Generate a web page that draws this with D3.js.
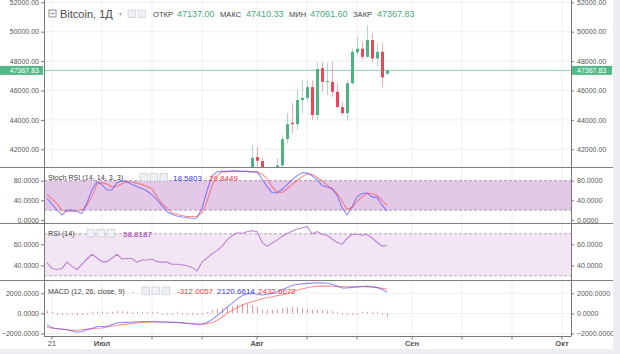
<!DOCTYPE html>
<html><head><meta charset="utf-8">
<script src="https://cdn.jsdelivr.net/npm/d3@7"></script>
<style>
body{margin:0;background:#fff;}
svg{display:block;font-family:"Liberation Sans", Arial, sans-serif;}
</style></head><body>
<svg id="c" width="620" height="354"></svg>
<script>
// ---------- DATA ----------
const indicatorStart = "2021-06-20";
const indicatorEnd = "2021-08-27";
const stochK = [44,32,20,10,20,20,17,13,35,62,78,72,61,61,76,80,78,72,68,64,59,51,41,29,17,11,8,6,5,3,4,24,60,90,98,99,99,100,100,99,99,98,98,84,68,56,55,62,72,82,90,96,96,90,82,70,67,64,50,25,10,27,47,54,55,47,46,30,18.58];
const stochD = [52,43,33,19,17,17,18,20,30,48,73,76,73,67,69,74,78,77,75,72,68,63,47,33,24,14,11,9,7,7,7,15,38,70,90,98,98,99,99,99,99,98,98,93,85,68,57,56,63,72,80,88,94,93,87,80,71,63,54,38,22,25,38,47,55,54,50,40,29.84];
const rsi = [42.5,37,36,37,43,39,36,41,46,50.5,47,43.5,43.5,47,50.5,46,46.5,46.5,43,45,45,46,43.5,43,43,41,41,40.5,39.5,38,34.6,43,47,51,54,58,64,68,71,70.5,72,73,72,62,58,61,64,67.5,70.5,72.5,74.5,75.5,77,70,72,69.6,68.6,65,62,60,65.5,69.6,69.6,68.6,69.6,66,62,58.3,58.82];
const macd = [-1140,-1420,-1520,-1580,-1630,-1750,-1880,-1800,-1630,-1470,-1300,-1300,-1300,-1100,-930,-900,-890,-870,-830,-810,-810,-810,-830,-860,-880,-890,-900,-940,-1000,-1060,-1110,-1080,-900,-600,-230,180,590,1000,1420,1750,1930,1980,1900,1830,1900,1990,2150,2380,2560,2780,2870,2940,2990,3010,3040,3050,3000,2900,2720,2530,2520,2590,2640,2680,2720,2680,2590,2400,2120.66];
const signal = [-1400,-1450,-1500,-1560,-1620,-1690,-1680,-1620,-1560,-1520,-1480,-1460,-1350,-1250,-1180,-1120,-1070,-1000,-940,-900,-870,-850,-840,-850,-860,-875,-900,-930,-960,-1000,-1040,-1060,-1020,-930,-700,-380,0,300,560,800,1000,1160,1280,1450,1560,1650,1760,1830,1960,2130,2300,2430,2550,2650,2690,2710,2720,2700,2680,2660,2650,2650,2650,2650,2640,2600,2560,2500,2432.67];
const hist = [260,30,-20,-20,-10,-60,-200,-180,-70,50,180,160,50,150,250,220,180,130,110,90,60,40,10,-10,-20,-15,0,-10,-40,-60,-70,-20,120,330,470,560,590,700,860,950,930,820,620,380,340,340,390,550,600,650,570,510,440,360,350,340,280,200,40,-130,-130,-60,-10,30,80,80,30,-100,-312.01];

const candleDates = ["2021-07-31","2021-08-01","2021-08-02","2021-08-03","2021-08-04","2021-08-05","2021-08-06","2021-08-07","2021-08-08","2021-08-09","2021-08-10","2021-08-11","2021-08-12","2021-08-13","2021-08-14","2021-08-15","2021-08-16","2021-08-17","2021-08-18","2021-08-19","2021-08-20","2021-08-21","2021-08-22","2021-08-23","2021-08-24","2021-08-25","2021-08-26","2021-08-27"];
const openP  = [40200,41470,41200,40300,39300,40500,40900,42690,43800,43710,45350,45500,46230,44330,47520,46590,46590,45910,44870,44460,46500,48590,48840,48290,49430,48180,48630,47137];
const highP  = [42300,42200,41400,40700,40700,41400,42970,44460,45140,46030,46710,46710,46710,47950,47950,47860,47950,46500,45230,46710,48880,49650,49310,50450,49900,49250,49250,47410.33];
const lowP   = [39800,40700,39900,38800,38600,39300,40500,42420,43100,43310,44460,45230,43990,43990,45910,45690,45570,44800,44330,43940,46370,48410,48070,48200,47930,47610,46210,47091.6];
const closeP = [41420,41220,40300,39300,40500,40900,42690,43710,43710,45350,45500,46230,44330,47460,46590,46650,45910,44870,44460,46500,48630,48840,48290,49430,48180,48630,46890,47367.83];
const lastPrice = 47367.83;

const priceTicks = [42000,44000,46000,48000,50000,52000];
const stochTicks = [0,40,80];
const rsiTicks = [40,60];
const macdTicks = [-2000,0,2000];
const timeTicks = ["2021-06-21","2021-07-01","2021-07-11","2021-07-21","2021-08-01","2021-08-11","2021-08-21","2021-09-01","2021-09-11","2021-09-21","2021-10-01"];
const timeLabels = {"2021-06-21":"21","2021-07-01":"Июл","2021-08-01":"Авг","2021-09-01":"Сен","2021-10-01":"Окт"};

// ---------- LAYOUT ----------
const svg = d3.select("#c");
const L = 44, R = 571;
const panes = {
  main: [0, 167],
  stoch: [168, 223.5],
  rsi: [224, 280.5],
  macd: [281, 336]
};
const parse = d3.utcParse("%Y-%m-%d");
const days = d3.utcDay.range(parse(indicatorStart), d3.utcDay.offset(parse(indicatorEnd), 1));

const x = d3.scaleUtc().domain([parse("2021-06-21"), parse("2021-10-01")]).range([52, 562]);
const yMain = d3.scaleLinear().domain([42000, 50000]).range([149.3, 31.7]);
const yStoch = d3.scaleLinear().domain([0, 80]).range([219.9, 180.7]);
const yRsi = d3.scaleLinear().domain([40, 60]).range([265.3, 244.3]);
const yMacd = d3.scaleLinear().domain([-2000, 2000]).range([333.5, 293.3]);

const green = "#4fb283", red = "#e8485a";

svg.append("rect").attr("x",0).attr("y",0).attr("width",620).attr("height",354).attr("fill","#fff");
svg.append("rect").attr("x",613).attr("y",0).attr("width",7).attr("height",354).attr("fill","#eceef2");
svg.append("rect").attr("x",0).attr("y",349).attr("width",620).attr("height",5).attr("fill","#eceef2");

const defs = svg.append("defs");
Object.entries(panes).forEach(([k,[t,b]]) => {
  defs.append("clipPath").attr("id","clip-"+k).append("rect").attr("x",L).attr("y",t).attr("width",R-L).attr("height",b-t);
  defs.append("clipPath").attr("id","clipax-"+k).append("rect").attr("x",0).attr("y",t).attr("width",613).attr("height",b-t);
});

Object.entries(panes).forEach(([k,[t,b]]) => {
  svg.append("g").attr("clip-path","url(#clip-"+k+")").selectAll("line").data(timeTicks).join("line")
    .attr("x1",d=>x(parse(d))).attr("x2",d=>x(parse(d))).attr("y1",t).attr("y2",b)
    .attr("stroke","#eff0f3").attr("stroke-width",1);
});

function hgrid(pane, scale, ticks){
  svg.append("g").attr("clip-path","url(#clip-"+pane+")").selectAll("line").data(ticks).join("line")
    .attr("x1",L).attr("x2",R).attr("y1",d=>scale(d)).attr("y2",d=>scale(d))
    .attr("stroke","#eff0f3").attr("stroke-width",1);
}
hgrid("main", yMain, priceTicks);
hgrid("rsi", yRsi, rsiTicks);
hgrid("macd", yMacd, macdTicks);

// ---------- STOCH RSI ----------
const gS = svg.append("g").attr("clip-path","url(#clip-stoch)");
gS.append("rect").attr("x",L).attr("width",R-L).attr("y",yStoch(80)).attr("height",yStoch(20)-yStoch(80)).attr("fill","#e3c8e8");
[80,20].forEach(v=>gS.append("line").attr("x1",L).attr("x2",R).attr("y1",yStoch(v)).attr("y2",yStoch(v))
  .attr("stroke","#a99aae").attr("stroke-dasharray","3,2"));
const lineS = (arr, ys) => d3.line().x((d,i)=>x(days[i])).y(d=>ys(d))(arr);
gS.append("path").attr("d",lineS(stochD,yStoch)).attr("fill","none").attr("stroke","rgba(255,70,70,0.6)").attr("stroke-width",1.1);
gS.append("path").attr("d",lineS(stochK,yStoch)).attr("fill","none").attr("stroke","rgba(70,70,255,0.6)").attr("stroke-width",1.1);

// ---------- RSI ----------
const gR = svg.append("g").attr("clip-path","url(#clip-rsi)");
gR.append("rect").attr("x",L).attr("width",R-L).attr("y",yRsi(70)).attr("height",yRsi(30)-yRsi(70)).attr("fill","#f2e6f4");
[70,30].forEach(v=>gR.append("line").attr("x1",L).attr("x2",R).attr("y1",yRsi(v)).attr("y2",yRsi(v))
  .attr("stroke","#b5a8b8").attr("stroke-dasharray","3,2"));
gR.append("path").attr("d",lineS(rsi,yRsi)).attr("fill","none").attr("stroke","rgba(175,95,200,0.75)").attr("stroke-width",1.1);

// ---------- MACD ----------
const gM = svg.append("g").attr("clip-path","url(#clip-macd)");
gM.selectAll("line.h").data(hist).join("line").attr("class","h")
  .attr("x1",(d,i)=>Math.round(x(days[i]))+0.5).attr("x2",(d,i)=>Math.round(x(days[i]))+0.5)
  .attr("y1",yMacd(0)).attr("y2",d=>{const y=yMacd(d); return Math.abs(y-yMacd(0))<1.5 ? yMacd(0)+(d<0?1.5:-1.5) : y;})
  .attr("stroke","rgba(240,90,90,0.65)").attr("stroke-width",1);
gM.append("path").attr("d",lineS(signal,yMacd)).attr("fill","none").attr("stroke","rgba(255,70,70,0.6)").attr("stroke-width",1.1);
gM.append("path").attr("d",lineS(macd,yMacd)).attr("fill","none").attr("stroke","rgba(70,70,255,0.6)").attr("stroke-width",1.1);

// ---------- MAIN CANDLES ----------
const gC = svg.append("g").attr("clip-path","url(#clip-main)");
gC.append("line").attr("x1",L).attr("x2",R).attr("y1",yMain(lastPrice)).attr("y2",yMain(lastPrice))
  .attr("stroke","#8fd3b0").attr("stroke-width",1);
const candles = candleDates.map((d,i)=>({d:parse(d),o:openP[i],h:highP[i],l:lowP[i],c:closeP[i]}));
gC.selectAll("line.w").data(candles).join("line").attr("class","w")
  .attr("x1",d=>Math.round(x(d.d))+0.5).attr("x2",d=>Math.round(x(d.d))+0.5)
  .attr("y1",d=>yMain(d.h)).attr("y2",d=>yMain(d.l))
  .attr("stroke",d=>d.c>=d.o?green:red).attr("stroke-opacity",0.45);
gC.selectAll("rect.b").data(candles).join("rect").attr("class","b")
  .attr("x",d=>Math.round(x(d.d))-1).attr("width",3)
  .attr("y",d=>yMain(Math.max(d.o,d.c))).attr("height",d=>Math.max(1.2,Math.abs(yMain(d.o)-yMain(d.c))))
  .attr("fill",d=>d.c>=d.o?green:red);

// ---------- AXES ----------
function axes(pane, scale, ticks, fmt){
  const ga = svg.append("g").attr("clip-path","url(#clipax-"+pane+")");
  const al = ga.append("g").attr("transform",`translate(${L},0)`).call(d3.axisLeft(scale).tickValues(ticks).tickFormat(d3.format(fmt)).tickSize(3).tickPadding(2));
  const ar = ga.append("g").attr("transform",`translate(${R},0)`).call(d3.axisRight(scale).tickValues(ticks).tickFormat(d3.format(fmt)).tickSize(3).tickPadding(3));
  [al,ar].forEach(a=>{
    a.select(".domain").remove();
    a.selectAll("line").attr("stroke","#777");
    a.selectAll("text").attr("font-size","7px").attr("fill","#555").attr("font-family","Liberation Sans, Arial, sans-serif");
  });
}
axes("main", yMain, priceTicks, ".2f");
axes("stoch", yStoch, stochTicks, ".4f");
axes("rsi", yRsi, rsiTicks, ".4f");
axes("macd", yMacd, macdTicks, ".4f");

[[0,43],[572,40]].forEach(([bx,bw])=>{
  svg.append("rect").attr("x",bx).attr("y",yMain(lastPrice)-4.5).attr("width",bw).attr("height",9).attr("fill","#53b987");
  svg.append("text").attr("x",bx===0?39:577).attr("y",yMain(lastPrice)+2.5).attr("text-anchor",bx===0?"end":"start")
    .attr("font-size","7px").attr("fill","#fff").text(d3.format(".2f")(lastPrice));
});

[167.5,223.5,280.5].forEach(y=>svg.append("line").attr("x1",0).attr("x2",613).attr("y1",y).attr("y2",y).attr("stroke","#808080").attr("stroke-width",1.2));
svg.append("line").attr("x1",L).attr("x2",R).attr("y1",336.5).attr("y2",336.5).attr("stroke","#777");
svg.append("line").attr("x1",L+0.5).attr("x2",L+0.5).attr("y1",0).attr("y2",336.5).attr("stroke","#777");
svg.append("line").attr("x1",R+0.5).attr("x2",R+0.5).attr("y1",0).attr("y2",336.5).attr("stroke","#777");

const gT = svg.append("g");
gT.selectAll("line").data(timeTicks).join("line")
  .attr("x1",d=>x(parse(d))).attr("x2",d=>x(parse(d))).attr("y1",336.5).attr("y2",339.5).attr("stroke","#777");
gT.selectAll("text").data(timeTicks.filter(d=>timeLabels[d])).join("text")
  .attr("x",d=>x(parse(d))).attr("y",346).attr("text-anchor","middle")
  .attr("font-size","7.5px").attr("fill","#555").attr("font-weight",d=>timeLabels[d]==="21"?"normal":"bold")
  .text(d=>timeLabels[d]);

// ---------- LEGENDS ----------
function icons(x0, y0, n){
  for(let i=0;i<n;i++) svg.append("rect").attr("x",x0+i*10).attr("y",y0).attr("width",7.5).attr("height",7.5)
    .attr("fill","#eef0f3").attr("stroke","#cfd3da").attr("stroke-width",0.8);
}
svg.append("rect").attr("x",49).attr("y",10).attr("width",7).attr("height",7).attr("fill","none").attr("stroke","#777").attr("stroke-width",0.8);
svg.append("line").attr("x1",50.5).attr("x2",54.5).attr("y1",13.5).attr("y2",13.5).attr("stroke","#777").attr("stroke-width",0.8);
svg.append("text").attr("x",60).attr("y",17.5).attr("font-size","11px").attr("fill","#4a4a4a").text("Bitcoin, 1Д");
svg.append("text").attr("x",119).attr("y",16).attr("font-size","6px").attr("fill","#aaa").text("▾");
icons(128,10,2);
const hdr = [["ОТКР",153,177,"47137.00"],["МАКС",220,246,"47410.33"],["МИН",289,310,"47091.60"],["ЗАКР",353,377,"47367.83"]];
hdr.forEach(([lab,lx,vx,val])=>{
  svg.append("text").attr("x",lx).attr("y",17).attr("font-size","7.6px").attr("fill","#444").text(lab);
  svg.append("text").attr("x",vx).attr("y",17.2).attr("font-size","9px").attr("fill","#4aaa7c").text(val);
});
const lg = 7.2;
svg.append("text").attr("x",48).attr("y",180).attr("font-size",lg+"px").attr("fill","#444").text("Stoch RSI (14, 14, 3, 3)");
svg.append("text").attr("x",131).attr("y",180).attr("font-size","7px").attr("fill","#aaa").text("‑");
icons(140,173.5,3);
svg.append("text").attr("x",173).attr("y",180.5).attr("font-size","8px").attr("fill","#3a3af0").text("18.5803");
svg.append("text").attr("x",209).attr("y",180.5).attr("font-size","8px").attr("fill","#f03a3a").text("29.8449");
svg.append("text").attr("x",48).attr("y",236).attr("font-size",lg+"px").attr("fill","#444").text("RSI (14)");
svg.append("text").attr("x",78).attr("y",236).attr("font-size","7px").attr("fill","#aaa").text("‑");
icons(87,229.5,3);
svg.append("text").attr("x",123).attr("y",236.5).attr("font-size","8px").attr("fill","#9a3aae").text("58.8187");
svg.append("text").attr("x",48).attr("y",293.5).attr("font-size",lg+"px").attr("fill","#444").text("MACD (12, 26, close, 9)");
svg.append("text").attr("x",132).attr("y",293.5).attr("font-size","7px").attr("fill","#aaa").text("‑");
icons(142,287,3);
svg.append("text").attr("x",177).attr("y",294).attr("font-size","8px").attr("fill","#f03a3a").text("-312.0057");
svg.append("text").attr("x",217).attr("y",294).attr("font-size","8px").attr("fill","#3a3af0").text("2120.6614");
svg.append("text").attr("x",258).attr("y",294).attr("font-size","8px").attr("fill","#f03a3a").text("2432.6672");
</script>
</body></html>
